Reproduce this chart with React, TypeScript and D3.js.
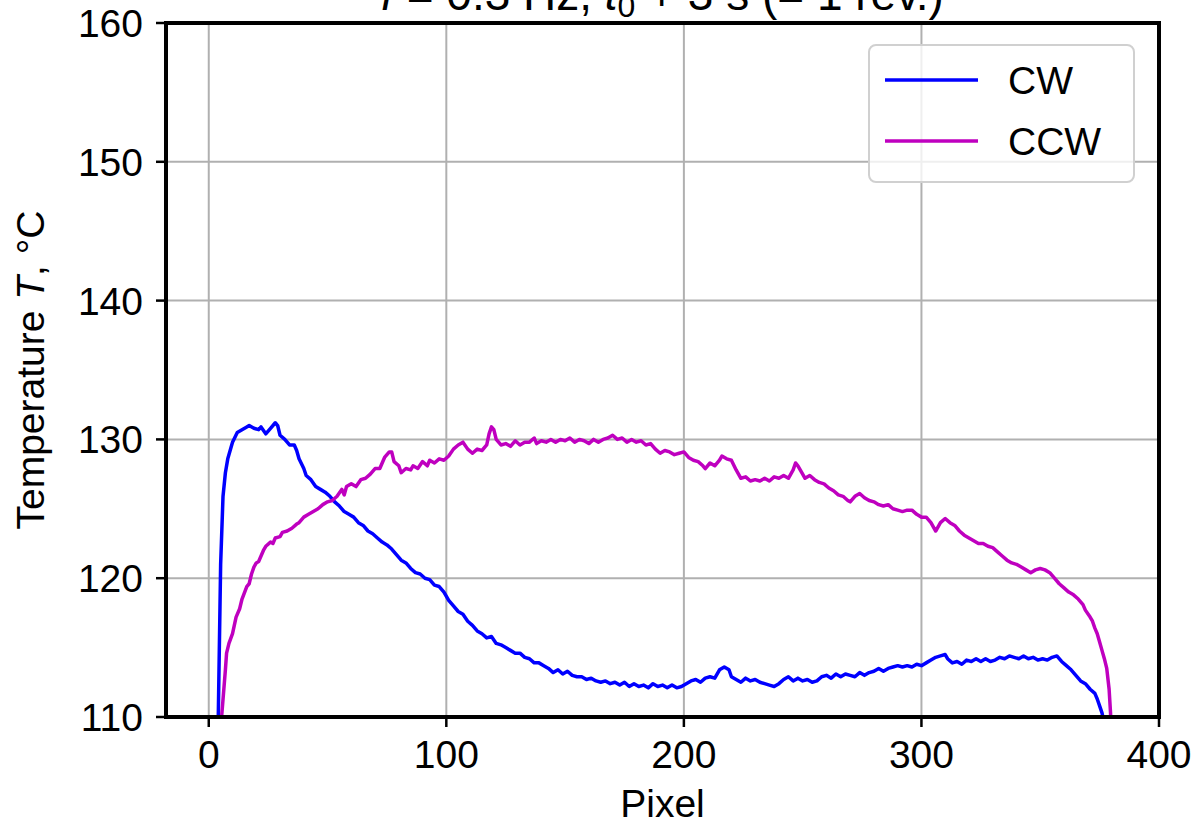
import * as d3 from "d3";
import { useEffect, useRef } from "react";

// CW series: pixel index and temperature
const cwPixel = [3, 4, 5, 6, 7, 8, 10, 12, 14, 16, 17, 19, 21, 22, 24, 26, 28, 29, 30, 32, 34, 36, 37, 38, 40, 41, 43, 45, 47, 49, 51, 53, 55, 57, 59, 61, 63, 65, 67, 69, 71, 73, 75, 77, 79, 81, 83, 85, 87, 89, 91, 93, 95, 97, 99, 101, 103, 105, 107, 109, 111, 113, 115, 117, 119, 121, 123, 125, 127, 129, 131, 133, 135, 137, 139, 141, 143, 145, 147, 149, 151, 153, 155, 157, 159, 161, 163, 165, 167, 169, 171, 173, 175, 177, 179, 181, 183, 185, 187, 189, 191, 193, 195, 197, 199, 201, 203, 205, 207, 209, 211, 213, 215, 217, 219, 220, 222, 224, 226, 228, 230, 232, 234, 236, 238, 240, 242, 244, 246, 248, 250, 252, 254, 256, 258, 260, 262, 264, 266, 268, 270, 272, 274, 276, 278, 280, 282, 284, 286, 288, 290, 292, 294, 296, 298, 300, 302, 304, 306, 308, 310, 311, 313, 315, 317, 319, 321, 323, 325, 327, 329, 331, 333, 335, 337, 339, 341, 343, 345, 347, 349, 351, 353, 355, 357, 359, 361, 363, 365, 367, 369, 371, 373, 374, 375, 376, 377];
const cwTemp = [100, 110, 121, 125.9, 127.6, 128.6, 129.8, 130.5, 130.7, 130.9, 131.0, 130.8, 130.7, 130.9, 130.4, 130.8, 131.2, 131.0, 130.3, 130.0, 129.6, 129.6, 129.2, 128.6, 127.9, 127.4, 127.1, 126.6, 126.4, 126.2, 125.9, 125.5, 125.2, 124.8, 124.6, 124.4, 124.0, 123.8, 123.4, 123.2, 122.9, 122.6, 122.4, 122.1, 121.7, 121.3, 121.1, 120.7, 120.4, 120.3, 120.0, 119.9, 119.5, 119.4, 119.0, 118.4, 118.0, 117.6, 117.4, 116.9, 116.6, 116.2, 116.0, 115.7, 115.8, 115.3, 115.2, 115.0, 114.8, 114.6, 114.6, 114.3, 114.2, 113.9, 113.9, 113.7, 113.5, 113.2, 113.4, 113.1, 113.3, 113.0, 112.9, 112.9, 112.7, 112.8, 112.6, 112.5, 112.6, 112.4, 112.5, 112.3, 112.5, 112.2, 112.4, 112.2, 112.3, 112.1, 112.4, 112.2, 112.3, 112.1, 112.3, 112.1, 112.2, 112.4, 112.6, 112.7, 112.5, 112.8, 112.9, 112.8, 113.4, 113.6, 113.4, 112.9, 112.7, 112.5, 112.8, 112.6, 112.7, 112.5, 112.4, 112.3, 112.2, 112.4, 112.7, 112.9, 112.6, 112.8, 112.6, 112.7, 112.5, 112.6, 112.9, 113.0, 112.8, 113.1, 112.9, 113.1, 113.0, 112.9, 113.2, 113.0, 113.2, 113.3, 113.5, 113.3, 113.5, 113.6, 113.7, 113.6, 113.7, 113.6, 113.8, 113.7, 113.9, 114.1, 114.3, 114.4, 114.5, 114.2, 113.9, 114.0, 113.8, 114.1, 114.0, 114.2, 114.0, 114.2, 114.0, 114.1, 114.3, 114.2, 114.4, 114.3, 114.2, 114.4, 114.2, 114.3, 114.1, 114.2, 114.1, 114.3, 114.4, 114.0, 113.7, 113.4, 113.0, 112.6, 112.4, 112.0, 111.7, 111.3, 110.8, 110.3, 109.5];

// CCW series
const ccwPixel = [4, 5, 5.5, 7, 7.5, 8.5, 10, 11.5, 13, 14, 16, 17, 18, 19, 20, 21, 22, 23, 24, 26, 27, 28, 30, 31, 33, 35, 37, 38, 40, 42, 44, 46, 48, 50, 52, 54, 56, 57, 58, 60, 62, 64, 66, 68, 70, 72, 74, 76, 77, 78, 80, 81, 83, 85, 86, 88, 90, 92, 93, 95, 97, 99, 101, 103, 105, 107, 109, 111, 113, 115, 117, 118, 119, 120, 121, 123, 125, 127, 129, 131, 133, 135, 137, 138, 140, 142, 144, 146, 148, 150, 152, 154, 156, 158, 160, 162, 164, 166, 168, 170, 172, 174, 176, 178, 180, 182, 184, 186, 188, 190, 192, 194, 196, 198, 200, 202, 204, 206, 208, 209, 211, 213, 215, 216, 218, 220, 222, 224, 226, 228, 230, 232, 234, 236, 238, 240, 242, 244, 246, 247, 248, 250, 251, 253, 255, 257, 259, 261, 263, 265, 267, 269, 270, 272, 274, 276, 278, 280, 282, 284, 286, 288, 290, 292, 294, 296, 298, 300, 302, 304, 306, 308, 310, 312, 314, 316, 318, 320, 322, 324, 326, 328, 330, 332, 334, 336, 338, 340, 342, 344, 346, 348, 350, 352, 354, 356, 358, 360, 362, 364, 366, 368, 369, 371, 372, 373, 374, 375, 376, 377, 378, 379, 379.6, 380];
const ccwTemp = [100, 108, 110.2, 113.4, 114.6, 115.3, 116.0, 117.2, 117.8, 118.5, 119.4, 119.6, 120.3, 120.8, 121.1, 121.2, 121.6, 122.0, 122.3, 122.6, 122.5, 122.9, 123.0, 123.3, 123.4, 123.6, 123.9, 124.0, 124.4, 124.6, 124.8, 125.0, 125.3, 125.5, 125.6, 125.9, 126.4, 126.0, 126.6, 126.8, 126.6, 127.1, 127.2, 127.5, 127.9, 127.9, 128.7, 129.1, 129.1, 128.4, 128.1, 127.6, 127.9, 127.8, 128.1, 127.9, 128.4, 128.1, 128.5, 128.3, 128.6, 128.5, 128.8, 129.3, 129.6, 129.8, 129.3, 129.0, 129.3, 129.2, 129.6, 130.4, 130.9, 130.7, 130.0, 129.6, 129.7, 129.5, 129.9, 129.6, 129.8, 129.8, 130.1, 129.7, 129.9, 129.8, 130.0, 129.8, 130.0, 129.9, 130.1, 129.8, 130.0, 129.9, 129.7, 130.0, 129.8, 130.0, 130.1, 130.3, 130.0, 130.1, 129.8, 130.0, 129.8, 129.9, 129.6, 129.7, 129.3, 129.0, 129.2, 129.1, 128.9, 129.0, 129.1, 128.7, 128.5, 128.4, 128.1, 127.9, 128.3, 128.1, 128.5, 128.8, 128.6, 128.5, 127.8, 127.2, 127.3, 127.0, 127.1, 127.0, 127.2, 127.0, 127.3, 127.2, 127.4, 127.2, 127.8, 128.3, 128.1, 127.5, 127.2, 127.4, 127.1, 126.9, 126.8, 126.5, 126.3, 126.0, 125.9, 125.6, 125.5, 125.9, 126.1, 125.8, 125.6, 125.5, 125.3, 125.2, 125.3, 125.0, 124.9, 124.8, 124.9, 124.9, 124.6, 124.4, 124.4, 124.0, 123.4, 124.0, 124.3, 124.0, 123.8, 123.4, 123.1, 122.9, 122.7, 122.5, 122.5, 122.3, 122.2, 121.9, 121.6, 121.3, 121.1, 121.0, 120.8, 120.6, 120.4, 120.6, 120.7, 120.6, 120.4, 120.0, 119.6, 119.3, 119.0, 118.8, 118.5, 118.1, 117.7, 117.2, 116.9, 116.4, 116.0, 115.4, 114.8, 114.2, 113.5, 112.0, 110.3, 108];

const xTicks = [0, 100, 200, 300, 400];
const yTicks = [110, 120, 130, 140, 150, 160];
const seriesNames = ["CW", "CCW"];
const seriesColors = ["#0000ff", "#bf00bf"];

const FONT = "'Liberation Sans', Arial, sans-serif";

export default function App() {
  const ref = useRef<SVGSVGElement>(null);

  useEffect(() => {
    const svg = d3.select(ref.current);
    svg.selectAll("*").remove();

    const left = 166, right = 1159, top = 23, bottom = 717;
    const x = d3.scaleLinear().domain([-18, 400]).range([left, right]);
    const y = d3.scaleLinear().domain([110, 160]).range([bottom, top]);

    // title (cut off at the top of the figure, as in the original)
    const title = svg.append("text")
      .attr("x", (left + right) / 2).attr("y", 10)
      .attr("text-anchor", "middle")
      .attr("font-family", FONT).attr("font-size", 46);
    title.append("tspan").attr("font-style", "italic").text("f");
    title.append("tspan").text(" = 0.3 Hz, ");
    title.append("tspan").attr("font-style", "italic").text("t");
    title.append("tspan").attr("font-size", 32).attr("dy", 7).text("0");
    title.append("tspan").attr("dy", -7).text(" + 3 s (= 1 rev.)");

    // grid
    const grid = svg.append("g").attr("stroke", "#b0b0b0").attr("stroke-width", 2);
    xTicks.forEach((t) => {
      grid.append("line").attr("x1", x(t)).attr("x2", x(t)).attr("y1", top).attr("y2", bottom);
    });
    yTicks.forEach((t) => {
      grid.append("line").attr("x1", left).attr("x2", right).attr("y1", y(t)).attr("y2", y(t));
    });

    // clip
    svg.append("defs").append("clipPath").attr("id", "plotclip")
      .append("rect").attr("x", left).attr("y", top)
      .attr("width", right - left).attr("height", bottom - top);

    const line = d3.line<[number, number]>()
      .x((d) => x(d[0]))
      .y((d) => y(d[1]));

    const series: [number, number][][] = [
      cwPixel.map((p, i) => [p, cwTemp[i]] as [number, number]),
      ccwPixel.map((p, i) => [p, ccwTemp[i]] as [number, number]),
    ];

    const lines = svg.append("g").attr("clip-path", "url(#plotclip)");
    series.forEach((s, i) => {
      lines.append("path")
        .datum(s)
        .attr("fill", "none")
        .attr("stroke", seriesColors[i])
        .attr("stroke-width", 3.5)
        .attr("stroke-linejoin", "round")
        .attr("d", line);
    });

    // ticks
    const ticks = svg.append("g").attr("stroke", "#000").attr("stroke-width", 2.5);
    xTicks.forEach((t) => {
      ticks.append("line").attr("x1", x(t)).attr("x2", x(t)).attr("y1", bottom).attr("y2", bottom + 10);
    });
    yTicks.forEach((t) => {
      ticks.append("line").attr("x1", left - 10).attr("x2", left).attr("y1", y(t)).attr("y2", y(t));
    });

    // spines
    svg.append("rect")
      .attr("x", left).attr("y", top)
      .attr("width", right - left).attr("height", bottom - top)
      .attr("fill", "none").attr("stroke", "#000").attr("stroke-width", 4);

    // tick labels
    const labels = svg.append("g").attr("font-family", FONT).attr("font-size", 39).attr("fill", "#000");
    xTicks.forEach((t) => {
      labels.append("text").attr("x", x(t)).attr("y", 768).attr("text-anchor", "middle").text(t);
    });
    yTicks.forEach((t) => {
      labels.append("text").attr("x", 143).attr("y", y(t) + 14).attr("text-anchor", "end").text(t);
    });

    // axis labels
    svg.append("text")
      .attr("x", (left + right) / 2).attr("y", 817)
      .attr("text-anchor", "middle")
      .attr("font-family", FONT).attr("font-size", 39)
      .text("Pixel");

    const yl = svg.append("text")
      .attr("transform", `translate(44, ${(top + bottom) / 2}) rotate(-90)`)
      .attr("text-anchor", "middle")
      .attr("font-family", FONT).attr("font-size", 39);
    yl.append("tspan").text("Temperature ");
    yl.append("tspan").attr("font-style", "italic").text("T");
    yl.append("tspan").text(", °C");

    // legend
    const lg = svg.append("g");
    lg.append("rect")
      .attr("x", 869).attr("y", 45).attr("width", 265).attr("height", 137)
      .attr("rx", 7)
      .attr("fill", "#fff").attr("fill-opacity", 0.8)
      .attr("stroke", "#d0d0d0").attr("stroke-width", 2);
    seriesNames.forEach((name, i) => {
      const ly = 80 + i * 61;
      lg.append("line")
        .attr("x1", 885).attr("x2", 978).attr("y1", ly).attr("y2", ly)
        .attr("stroke", seriesColors[i]).attr("stroke-width", 3.5);
      lg.append("text")
        .attr("x", 1008).attr("y", ly + 14)
        .attr("font-family", FONT).attr("font-size", 39)
        .text(name);
    });
  }, []);

  return (
    <svg
      ref={ref}
      width={1197}
      height={824}
      style={{ position: "absolute", left: 0, top: 0, background: "#fff" }}
    />
  );
}
